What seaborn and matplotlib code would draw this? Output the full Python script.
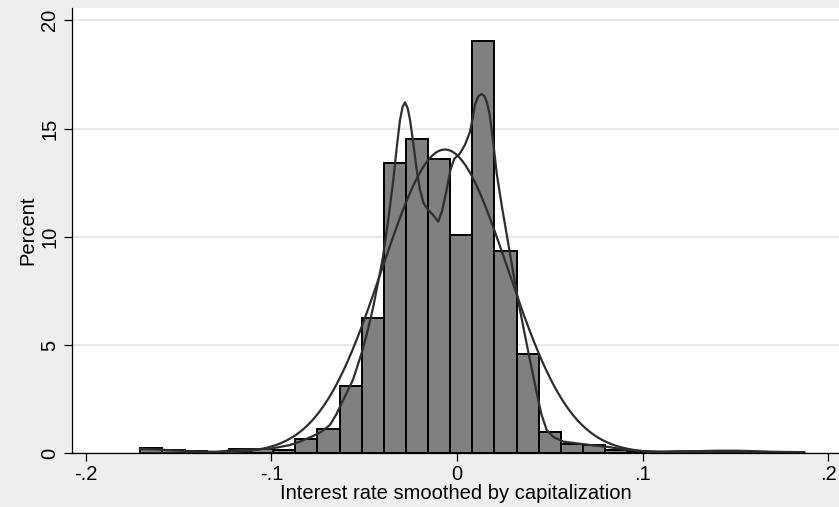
import numpy as np
import pandas as pd
import matplotlib
matplotlib.use("Agg")
import matplotlib.pyplot as plt
import seaborn as sns

# ---- histogram: 30 equal-width bins, bar heights in percent ----
bin_start = -0.1706
bin_end = 0.1871
bin_percent = [0.25, 0.15, 0.10, 0.05, 0.20, 0.20, 0.15, 0.65, 1.10, 3.10,
               6.25, 13.40, 14.50, 13.60, 10.10, 19.05, 9.35, 4.60, 1.00, 0.45,
               0.40, 0.15, 0.07, 0.03, 0.07, 0.07, 0.10, 0.07, 0.05, 0.05]

# ---- kernel density estimate, expressed in percent per bin ----
kde_x = [-0.1706, -0.160, -0.150, -0.140, -0.130, -0.120, -0.110, -0.100,
         -0.090, -0.0846, -0.078, -0.0730, -0.0684, -0.0650, -0.0613, -0.0560,
         -0.0514, -0.0480, -0.0451, -0.0425, -0.0400, -0.0370, -0.0343, -0.0325,
         -0.0307, -0.0293, -0.0280, -0.0266, -0.0253, -0.0235, -0.0217, -0.0200,
         -0.0180, -0.0155, -0.0128, -0.0101, -0.0080, -0.0056, -0.0035, -0.0015,
         0.0016, 0.0043, 0.0070, 0.0085, 0.0097, 0.0115, 0.0133, 0.0147,
         0.0160, 0.0175, 0.0187, 0.0200, 0.0214, 0.0241, 0.0268, 0.0295,
         0.0322, 0.0357, 0.0393, 0.0430, 0.0455, 0.0483, 0.0520, 0.0573,
         0.0663, 0.0740, 0.0807, 0.0900, 0.100, 0.110, 0.120, 0.130,
         0.140, 0.150, 0.160, 0.170, 0.1871]
kde_pct = [0.20, 0.17, 0.12, 0.08, 0.07, 0.14, 0.18, 0.22,
           0.38, 0.54, 0.78, 1.00, 1.31, 1.80, 2.46, 3.40,
           4.62, 5.70, 6.77, 7.90, 9.00, 10.80, 12.62, 14.10,
           15.40, 16.00, 16.21, 15.95, 15.40, 14.30, 13.09, 12.20,
           11.55, 11.24, 11.00, 10.70, 11.20, 12.16, 13.10, 13.60,
           13.85, 14.25, 14.85, 15.50, 16.10, 16.50, 16.60, 16.50,
           16.25, 15.70, 14.93, 14.00, 12.93, 11.45, 10.10, 8.75,
           7.39, 5.85, 4.31, 2.77, 1.80, 1.08, 0.75, 0.54,
           0.44, 0.36, 0.30, 0.18, 0.10, 0.08, 0.10, 0.10,
           0.12, 0.12, 0.10, 0.07, 0.05]

# ---- normal density overlay parameters ----
normal_mean = -0.0065
normal_sd = 0.0339

x_ticks = [-0.2, -0.1, 0.0, 0.1, 0.2]
x_tick_labels = ["-.2", "-.1", "0", ".1", ".2"]
y_ticks = [0, 5, 10, 15, 20]
y_tick_labels = ["0", "5", "10", "15", "20"]
x_title = "Interest rate smoothed by capitalization"
y_title = "Percent"

# ---- derived tables ----
n_bins = len(bin_percent)
bin_width = (bin_end - bin_start) / n_bins
centers = bin_start + bin_width * (np.arange(n_bins) + 0.5)
hist_df = pd.DataFrame({"x": centers, "pct": bin_percent})
kde_df = pd.DataFrame({"x": kde_x, "pct": kde_pct})
grid_x = np.linspace(bin_start, bin_end, 500)
norm_pct = 100 * bin_width * np.exp(-0.5 * ((grid_x - normal_mean) / normal_sd) ** 2) / (
    normal_sd * np.sqrt(2 * np.pi))
norm_df = pd.DataFrame({"x": grid_x, "pct": norm_pct})

plt.rcParams["font.family"] = ["Liberation Sans", "DejaVu Sans"]
FS = 14.5

BG = "#EEEEEE"
LINE = "#2E2E2E"

fig = plt.figure(figsize=(8.39, 5.07), dpi=100, facecolor=BG)
ax = fig.add_axes([72 / 839, 53.7 / 507, (839 - 72) / 839, 445.3 / 507])
ax.set_facecolor("white")

sns.histplot(data=hist_df, x="x", weights="pct", bins=n_bins,
             binrange=(bin_start, bin_end), stat="count",
             color="#808080", edgecolor="black", linewidth=1.4, alpha=1.0, ax=ax)
sns.lineplot(data=norm_df, x="x", y="pct", color=LINE, linewidth=1.6,
             estimator=None, ax=ax)
sns.lineplot(data=kde_df, x="x", y="pct", color=LINE, linewidth=1.6,
             estimator=None, ax=ax)

ax.set_xlim(-0.2074, 0.2058)
ax.set_ylim(0, 20.57)

ax.set_xticks(x_ticks)
ax.set_xticklabels(x_tick_labels)
ax.set_yticks(y_ticks)
ax.set_yticklabels(y_tick_labels, rotation=90, va="center")
ax.tick_params(axis="both", length=5.8, width=0.9, color="black",
               labelsize=FS, labelcolor="black")
ax.tick_params(axis="x", pad=2.5)
ax.tick_params(axis="y", pad=3.5)

ax.yaxis.grid(True, color="#E4E4E4", linewidth=1.2)
ax.xaxis.grid(False)
ax.set_axisbelow(True)

for side in ("top", "right"):
    ax.spines[side].set_visible(False)
for side in ("left", "bottom"):
    ax.spines[side].set_color("black")
    ax.spines[side].set_linewidth(0.9)

ax.set_xlabel(x_title, fontsize=FS, labelpad=0)
ax.set_ylabel(y_title, fontsize=FS, labelpad=2)

fig.savefig("out.png", dpi=100, facecolor=BG)
